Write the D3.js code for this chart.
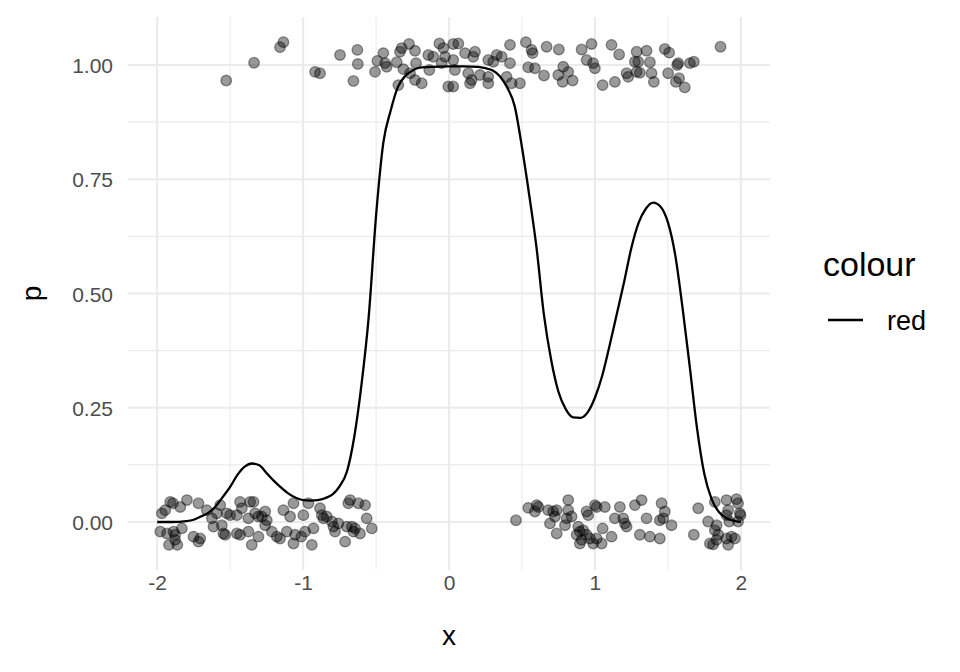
<!DOCTYPE html>
<html><head><meta charset="utf-8">
<script src="https://cdn.jsdelivr.net/npm/d3@7"></script>
<style>body{margin:0;background:#fff}svg{display:block}</style>
</head><body>
<svg id="c" width="960" height="672"></svg>
<script>
// top group (y near 1) points
const topX = [-1.527,-1.336,-1.158,-1.135,-0.918,-0.884,-0.747,-0.628,-0.625,-0.655,-0.507,-0.491,-0.450,-0.438,-0.427,-0.358,-0.324,-0.336,-0.313,-0.274,-0.233,-0.226,-0.267,-0.233,-0.187,-0.347,-0.142,-0.135,-0.108,-0.066,-0.039,-0.027,-0.050,-0.005,0.029,0.064,0.029,0.041,0.110,0.166,0.178,0.132,0.144,0.155,0.029,0.269,0.303,0.327,0.361,0.418,0.395,0.269,0.269,0.212,0.418,0.486,0.429,0.527,0.566,0.573,0.543,0.589,0.651,0.669,0.753,0.749,0.783,0.817,0.779,0.847,0.909,0.977,0.943,0.988,1.000,1.114,1.166,1.053,1.137,1.286,1.354,1.274,1.297,1.377,1.217,1.228,1.286,1.308,1.388,1.404,1.479,1.509,1.502,1.571,1.564,1.651,1.678,1.555,1.577,1.616,1.861];
const topY = [0.966,1.005,1.039,1.050,0.985,0.982,1.022,1.033,1.002,0.965,0.985,1.009,1.026,1.004,0.996,1.006,1.037,1.029,0.991,1.046,1.031,1.004,0.982,0.967,0.960,0.956,1.022,0.989,1.018,1.047,1.037,1.018,1.004,0.953,1.046,1.047,1.011,0.989,1.026,1.018,1.029,0.982,0.960,0.967,0.953,1.011,1.007,1.022,1.018,1.004,0.974,0.974,0.960,0.978,1.044,0.960,0.960,1.050,1.033,1.026,0.995,0.993,0.977,1.040,1.034,0.978,0.996,0.985,0.963,0.966,1.034,1.046,1.011,1.004,0.993,1.044,1.023,0.956,0.963,1.029,1.031,1.007,1.007,1.006,0.982,0.974,0.985,0.983,0.982,0.963,1.035,1.027,0.982,1.004,1.000,1.004,1.007,0.963,0.971,0.951,1.040];
// bottom group (y near 0) points
const botX = [-1.968,-1.945,-1.911,-1.892,-1.842,-1.796,-1.717,-1.660,-1.979,-1.933,-1.888,-1.877,-1.831,-1.919,-1.862,-1.877,-1.751,-1.705,-1.717,-1.625,-1.614,-1.557,-1.546,-1.534,-1.591,-1.568,-1.523,-1.500,-1.454,-1.432,-1.420,-1.363,-1.340,-1.329,-1.375,-1.306,-1.260,-1.249,-1.283,-1.454,-1.432,-1.375,-1.352,-1.306,-1.260,-1.214,-1.180,-1.158,-1.112,-1.055,-1.066,-1.135,-1.066,-1.089,-0.998,-0.964,-0.884,-0.872,-1.012,-0.986,-0.940,-0.929,-0.860,-0.838,-0.803,-0.792,-0.781,-0.758,-0.712,-0.690,-0.678,-0.621,-0.575,-0.564,-0.701,-0.666,-0.644,-0.655,-0.610,-0.529,
  0.459,0.543,0.601,0.589,0.612,0.680,0.714,0.738,0.726,0.692,0.738,0.817,0.817,0.806,0.840,0.795,0.943,0.954,1.000,0.886,0.897,0.875,0.920,0.943,0.909,0.966,0.988,0.897,1.012,1.012,1.068,1.171,1.274,1.320,1.457,1.479,1.468,1.137,1.194,1.205,1.217,1.354,1.445,1.525,1.053,1.046,1.114,1.308,1.377,1.445,1.708,1.678,1.776,1.822,1.834,1.822,1.845,1.834,1.788,1.810,1.902,1.913,1.936,1.959,1.902,1.913,1.970,1.981,1.993,1.981,1.998,1.921,1.902];
const botY = [0.019,0.026,0.044,0.041,0.033,0.048,0.041,0.026,-0.021,-0.025,-0.021,-0.028,-0.014,-0.050,-0.050,-0.039,-0.032,-0.036,-0.043,0.008,-0.010,-0.007,-0.025,-0.028,0.019,0.037,0.019,0.015,0.015,0.044,0.030,0.044,0.044,0.019,0.008,0.012,0.023,0.004,0.012,-0.025,-0.028,-0.021,-0.050,-0.032,-0.007,-0.021,-0.032,-0.036,-0.021,-0.028,-0.047,0.026,0.041,0.012,0.015,0.041,0.030,0.015,-0.032,-0.021,-0.050,-0.014,0.008,0.012,0.001,-0.010,-0.021,-0.003,-0.043,0.041,0.048,0.041,0.037,0.008,-0.010,-0.010,-0.014,-0.021,-0.025,-0.014,
  0.004,0.031,0.037,0.023,0.033,0.026,0.023,0.026,0.012,-0.003,-0.025,0.048,0.026,0.008,0.012,-0.007,0.023,0.015,0.037,-0.010,-0.021,-0.028,-0.018,-0.028,-0.039,-0.036,-0.047,-0.047,-0.036,0.033,0.033,0.033,0.037,0.048,0.041,0.023,0.008,0.008,0.008,-0.003,-0.010,0.008,0.004,-0.007,-0.014,-0.047,-0.032,-0.028,-0.032,-0.036,0.030,-0.028,0.001,0.044,-0.007,-0.018,-0.028,-0.039,-0.047,-0.049,-0.036,-0.050,-0.032,-0.036,0.048,0.026,0.050,0.041,0.019,0.001,0.015,0.001,0.015];
// fitted curve
const curveX = [-2.0,-1.9,-1.8,-1.75,-1.7,-1.65,-1.6,-1.55,-1.5,-1.45,-1.4,-1.35,-1.3,-1.25,-1.2,-1.15,-1.1,-1.05,-1.0,-0.95,-0.9,-0.85,-0.8,-0.75,-0.7,-0.65,-0.6,-0.55,-0.5,-0.45,-0.4,-0.35,-0.3,-0.25,-0.2,-0.1,0.0,0.1,0.2,0.25,0.3,0.35,0.4,0.45,0.5,0.55,0.6,0.65,0.7,0.75,0.8,0.85,0.9,0.95,1.0,1.05,1.1,1.15,1.2,1.25,1.3,1.35,1.4,1.45,1.5,1.55,1.6,1.65,1.7,1.75,1.8,1.85,1.9,1.95,2.0];
const curveP = [0.000,0.000,0.002,0.005,0.012,0.020,0.034,0.055,0.077,0.103,0.121,0.128,0.124,0.107,0.090,0.075,0.062,0.053,0.048,0.047,0.048,0.052,0.060,0.078,0.110,0.185,0.300,0.450,0.670,0.830,0.900,0.952,0.976,0.988,0.994,0.996,0.997,0.997,0.996,0.993,0.988,0.975,0.950,0.910,0.820,0.715,0.600,0.455,0.355,0.285,0.247,0.229,0.228,0.240,0.272,0.320,0.385,0.455,0.525,0.600,0.655,0.686,0.699,0.690,0.656,0.585,0.470,0.340,0.205,0.105,0.050,0.022,0.009,0.003,0.000];
const xTicks = [-2,-1,0,1,2];
const xTickLabels = ["-2","-1","0","1","2"];
const yTicks = [0,0.25,0.5,0.75,1];
const yTickLabels = ["0.00","0.25","0.50","0.75","1.00"];
const legendLabels = ["red"];

const svg = d3.select("#c");
const L = 128, R = 770, T = 17, B = 570;
const x = d3.scaleLinear().domain([-2.2, 2.2]).range([L, R]);
const y = d3.scaleLinear().domain([-0.105, 1.105]).range([B, T]);
const font = "'Liberation Sans', Arial, Helvetica, sans-serif";

const g = svg.append("g");
const xMinor = [-1.5,-0.5,0.5,1.5], yMinor = [0.125,0.375,0.625,0.875];
g.selectAll(".xm").data(xMinor).join("line").attr("x1",d=>x(d)).attr("x2",d=>x(d)).attr("y1",T).attr("y2",B).attr("stroke","#EBEBEB").attr("stroke-width",1.1);
g.selectAll(".ym").data(yMinor).join("line").attr("y1",d=>y(d)).attr("y2",d=>y(d)).attr("x1",L).attr("x2",R).attr("stroke","#EBEBEB").attr("stroke-width",1.1);
g.selectAll(".xM").data(xTicks).join("line").attr("x1",d=>x(d)).attr("x2",d=>x(d)).attr("y1",T).attr("y2",B).attr("stroke","#EBEBEB").attr("stroke-width",2.1);
g.selectAll(".yM").data(yTicks).join("line").attr("y1",d=>y(d)).attr("y2",d=>y(d)).attr("x1",L).attr("x2",R).attr("stroke","#EBEBEB").attr("stroke-width",2.1);

const xAxis = d3.axisBottom(x).tickValues(xTicks).tickSize(0).tickPadding(0).tickFormat((d,i)=>xTickLabels[i]);
const ax = svg.append("g").attr("transform",`translate(0,${B})`).call(xAxis);
ax.select(".domain").remove();
ax.selectAll("text").attr("font-family",font).attr("font-size",21).attr("fill","#4D4D4D").attr("dy",null).attr("y",20);
const yAxis = d3.axisLeft(y).tickValues(yTicks).tickSize(0).tickPadding(0).tickFormat((d,i)=>yTickLabels[i]);
const ay = svg.append("g").attr("transform",`translate(${L-15},0)`).call(yAxis);
ay.select(".domain").remove();
ay.selectAll("text").attr("font-family",font).attr("font-size",21).attr("fill","#4D4D4D").attr("dy","0.36em");

svg.append("text").attr("x",(L+R)/2).attr("y",645).attr("text-anchor","middle").attr("font-family",font).attr("font-size",28).text("x");
svg.append("text").attr("transform",`translate(41,${(T+B)/2}) rotate(-90)`).attr("text-anchor","middle").attr("font-family",font).attr("font-size",28).text("p");

const pts = topX.map((d,i)=>[d,topY[i]]).concat(botX.map((d,i)=>[d,botY[i]]));
svg.append("g").selectAll("circle").data(pts).join("circle")
  .attr("cx",d=>x(d[0])).attr("cy",d=>y(d[1])).attr("r",5.3)
  .attr("fill","rgba(0,0,0,0.4)").attr("stroke","rgba(0,0,0,0.4)").attr("stroke-width",1.3);

const line = d3.line().x(d=>x(d[0])).y(d=>y(d[1])).curve(d3.curveMonotoneX);
svg.append("path").datum(curveX.map((d,i)=>[d,curveP[i]])).attr("d",line)
  .attr("fill","none").attr("stroke","#000").attr("stroke-width",2.3).attr("stroke-linejoin","round");

svg.append("text").attr("x",823).attr("y",276).attr("font-family",font).attr("font-size",34).text("colour");
const lg = svg.append("g").selectAll("g").data(legendLabels).join("g").attr("transform",(d,i)=>`translate(0,${320+i*36})`);
lg.append("line").attr("x1",828).attr("x2",863).attr("y1",0).attr("y2",0).attr("stroke","#000").attr("stroke-width",2.4);
lg.append("text").attr("x",887).attr("y",9.5).attr("font-family",font).attr("font-size",27).text(d=>d);
</script>
</body></html>
